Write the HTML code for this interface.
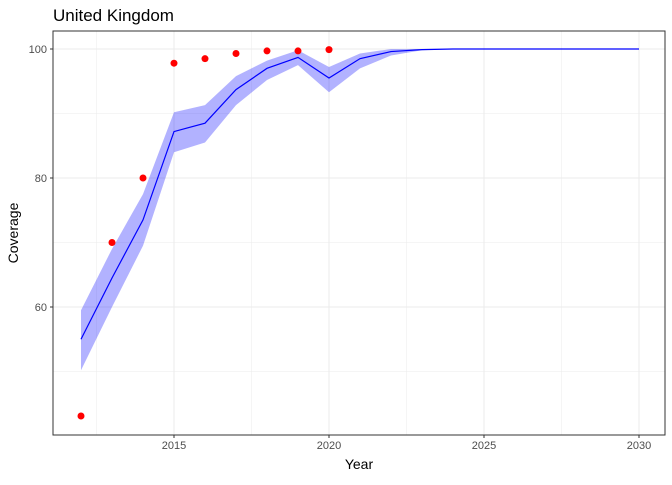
<!DOCTYPE html>
<html><head><meta charset="utf-8"><style>
body{margin:0;background:#fff;font-family:"Liberation Sans",sans-serif}
</style></head><body>
<svg id="chart" width="672" height="480" xmlns="http://www.w3.org/2000/svg">
<rect width="672" height="480" fill="#fff"/>
<text x="53" y="21" font-size="17" fill="#000">United Kingdom</text>
<g id="grid"></g>
<g id="series"></g>
<rect x="53" y="31" width="612" height="404" fill="none" stroke="#333" stroke-width="1"/>
<g id="axes" font-size="11" fill="#4d4d4d"></g>
<text x="359" y="469" font-size="14" text-anchor="middle">Year</text>
<text transform="translate(18,233) rotate(-90)" font-size="14" text-anchor="middle">Coverage</text>
</svg>
<script>
const years=[2012,2013,2014,2015,2016,2017,2018,2019,2020,2021,2022,2023,2024,2025,2026,2027,2028,2029,2030];
const fit=[55,64.5,73.5,87.2,88.5,93.7,97,98.7,95.5,98.5,99.6,99.9,100,100,100,100,100,100,100];
const lower=[50.2,60,69.5,84,85.5,91.3,95.2,97.5,93.3,97,99,99.8,100,100,100,100,100,100,100];
const upper=[59.5,69,77.5,90.2,91.3,95.8,98.2,99.8,97.2,99.3,100,100,100,100,100,100,100,100,100];
const obsYears=[2012,2013,2014,2015,2016,2017,2018,2019,2020];
const obsValues=[43.1,70,80,97.8,98.5,99.3,99.7,99.7,99.9];
const xTicks=[2015,2020,2025,2030];
const xMinor=[2012.5,2017.5,2022.5,2027.5];
const yTicks=[60,80,100];
const yMinor=[50,70,90];
const NS="http://www.w3.org/2000/svg";
const X=v=>174+(v-2015)*31;
const Y=v=>49+(100-v)*6.45;
function mk(t,a,p){const e=document.createElementNS(NS,t);for(const k in a)e.setAttribute(k,a[k]);p.appendChild(e);return e;}
const g=document.getElementById('grid'),s=document.getElementById('series'),ax=document.getElementById('axes');
xMinor.forEach(v=>{const l=mk('line',{x1:X(v),x2:X(v),y1:31,y2:435,stroke:'#ebebeb','stroke-width':0.5},g);

});
yMinor.forEach(v=>{const l=mk('line',{x1:53,x2:665,y1:Y(v),y2:Y(v),stroke:'#ebebeb','stroke-width':0.5},g);

});
xTicks.forEach(v=>{const l=mk('line',{x1:X(v),x2:X(v),y1:31,y2:435,stroke:'#ebebeb','stroke-width':1},g);


const t=mk('line',{x1:X(v),x2:X(v),y1:435,y2:438,stroke:'#333'},ax);


const tx=mk('text',{x:X(v),y:449,'text-anchor':'middle'},ax);tx.textContent=v;

});
yTicks.forEach(v=>{const l=mk('line',{x1:53,x2:665,y1:Y(v),y2:Y(v),stroke:'#ebebeb','stroke-width':1},g);


const t=mk('line',{x1:50,x2:53,y1:Y(v),y2:Y(v),stroke:'#333'},ax);


const tx=mk('text',{x:47,y:Y(v)+4,'text-anchor':'end'},ax);tx.textContent=v;

});
let d='';years.forEach((y,i)=>d+=(i?'L':'M')+X(y)+','+Y(upper[i]));
for(let i=years.length-1;i>=0;i--)d+='L'+X(years[i])+','+Y(lower[i]);
const rib=mk('path',{d:d+'Z',fill:'#0000ff','fill-opacity':0.3},s);


const ln=mk('polyline',{points:years.map((y,i)=>X(y)+','+Y(fit[i])).join(' '),fill:'none',stroke:'#0000ff','stroke-width':1.2},s);


obsYears.forEach((y,i)=>{const c=mk('circle',{cx:X(y),cy:Y(obsValues[i]),r:3.5,fill:'#ff0000'},s);

});
</script>
</body></html>
